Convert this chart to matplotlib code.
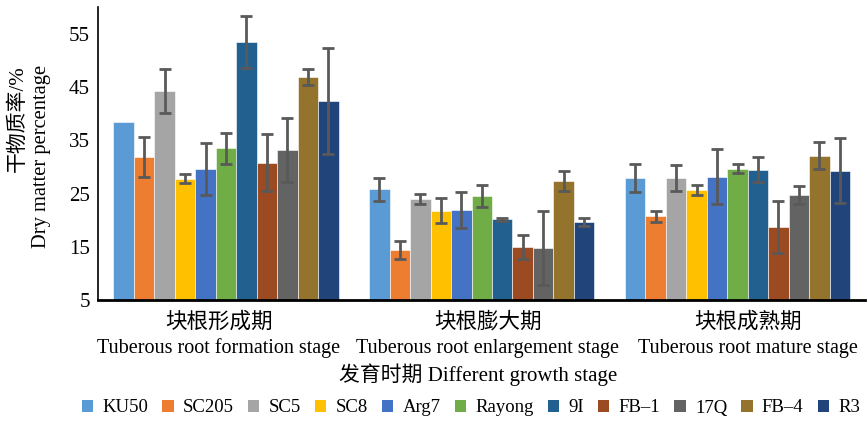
import numpy as np
import matplotlib
matplotlib.use("Agg")
import matplotlib.pyplot as plt
from matplotlib.patches import Patch

plt.rcParams['font.family'] = ['Liberation Serif', 'Noto Sans CJK SC', 'DejaVu Sans']

stages_cn = ["块根形成期", "块根膨大期", "块根成熟期"]
stages_en = ["Tuberous root formation stage", "Tuberous root enlargement stage",
             "Tuberous root mature stage"]
varieties = ["KU50", "SC205", "SC5", "SC8", "Arg7", "Rayong", "9I", "FB\u20131",
             "17Q", "FB\u20134", "R3"]

# dry matter percentage per variety, one value per stage
ku50 = [38.5, 25.8, 27.9]
sc205 = [31.9, 14.4, 20.7]
sc5 = [44.3, 24.0, 27.9]
sc8 = [27.8, 21.8, 25.7]
arg7 = [29.6, 21.9, 28.2]
rayong = [33.5, 24.5, 29.7]
v9i = [53.4, 20.2, 29.5]
fb1 = [30.8, 14.9, 18.7]
v17q = [33.1, 14.8, 24.7]
fb4 = [46.9, 27.3, 32.1]
r3 = [42.4, 19.7, 29.3]

# standard deviations
ku50_sd = [np.nan, 2.2, 2.6]
sc205_sd = [3.8, 1.7, 1.1]
sc5_sd = [4.1, 1.0, 2.4]
sc8_sd = [0.85, 2.4, 0.95]
arg7_sd = [4.85, 3.45, 5.25]
rayong_sd = [2.9, 2.1, 0.9]
v9i_sd = [4.9, 0.3, 2.4]
fb1_sd = [5.3, 2.25, 4.85]
v17q_sd = [6.0, 6.9, 1.75]
fb4_sd = [1.5, 1.9, 2.55]
r3_sd = [9.9, 0.75, 6.15]

yticks = [5, 15, 25, 35, 45, 55]

values = [ku50, sc205, sc5, sc8, arg7, rayong, v9i, fb1, v17q, fb4, r3]
errors = [ku50_sd, sc205_sd, sc5_sd, sc8_sd, arg7_sd, rayong_sd, v9i_sd,
          fb1_sd, v17q_sd, fb4_sd, r3_sd]
colors = ["#5B9BD5", "#ED7D31", "#A5A5A5", "#FFC000", "#4472C4", "#70AD47",
          "#22608F", "#9C4A22", "#636363", "#94742C", "#21457A"]

W, H = 868, 422
fig = plt.figure(figsize=(W / 100, H / 100), dpi=100)
ax = fig.add_axes([0.113, 0.289, 0.884, 0.694])

x = np.arange(len(stages_cn))
bw = 0.08
n = len(varieties)
for i, (v, e, c) in enumerate(zip(values, errors, colors)):
    pos = x + (i - (n - 1) / 2) * bw
    ax.bar(pos, np.array(v) - 5, bottom=5, width=bw, color=c,
           edgecolor="white", linewidth=0.4, zorder=2)
    ax.errorbar(pos, v, yerr=e, fmt="none", ecolor="#595959", elinewidth=2,
                capsize=4, capthick=2, zorder=3)

ax.set_xlim(-0.5, 2.5)
ax.set_ylim(5, 60)
ax.set_yticks(yticks)
ax.set_yticklabels([str(t) for t in yticks], fontsize=15,
                   family="Liberation Serif")
ax.tick_params(axis="y", length=0, pad=6)
ax.set_xticks([])
for s in ["top", "right"]:
    ax.spines[s].set_visible(False)
ax.spines["left"].set_linewidth(1.2)
ax.spines["bottom"].set_linewidth(2)

# category labels below each group
label_x = [219, 488, 748]
for lx, cn, en in zip(label_x, stages_cn, stages_en):
    fig.text(lx / W, 1 - 322 / H, cn, ha="center", va="center",
             fontsize=15.5, family=["Noto Sans CJK SC", "DejaVu Sans"])
    fig.text(lx / W, 1 - 348 / H, en, ha="center", va="center",
             fontsize=14.5, family="Liberation Serif")

fig.text(478 / W, 1 - 375 / H, "发育时期 Different growth stage", ha="center",
         va="center", fontsize=15,
         family=["Liberation Serif", "Noto Sans CJK SC"])

fig.text(18 / W, 1 - 65 / H, "干物质率/%", rotation=90, ha="center",
         va="top", fontsize=15,
         family=["Liberation Serif", "Noto Sans CJK SC"])
fig.text(42 / W, 1 - 65 / H, "Dry matter percentage", rotation=90,
         ha="center", va="top", fontsize=14.8, family="Liberation Serif")

handles = [Patch(facecolor=c, edgecolor="none") for c in colors]
fig.legend(handles, varieties, loc="center", bbox_to_anchor=(471 / W, 1 - 408 / H),
           ncol=n, frameon=False, handlelength=0.6,
           handleheight=0.6, handletextpad=0.5, columnspacing=0.75,
           prop={"family": "Liberation Serif", "size": 13.5})

fig.savefig("out.png", dpi=100)
